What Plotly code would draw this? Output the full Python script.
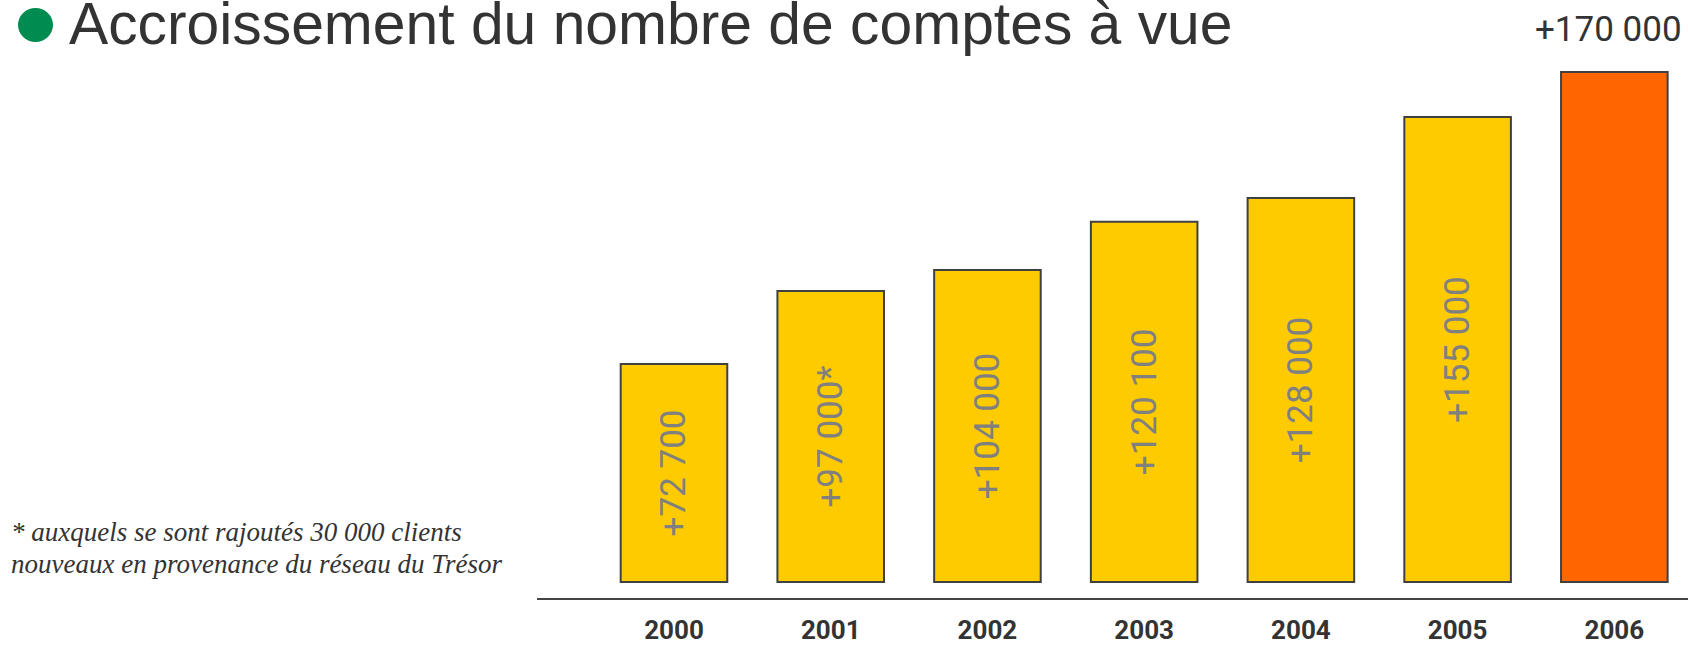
import plotly.graph_objects as go

# ---- data ----
years = ["2000", "2001", "2002", "2003", "2004", "2005", "2006"]
accounts = [72700, 97000, 104000, 120100, 128000, 155000, 170000]
bar_labels = ["+72 700", "+97 000*", "+104 000", "+120 100", "+128 000", "+155 000", ""]
top_label = "+170 000"
title_text = "Accroissement du nombre de comptes à vue"
footnote_lines = ["* auxquels se sont rajoutés 30 000 clients",
                  "nouveaux en provenance du réseau du Trésor"]

# ---- layout geometry (pixels) ----
W, H = 1688, 646
ML, MR, MT, MB = 537, 0, 60, 48
PW, PH = W - ML - MR, H - MT - MB

def px_x(x):
    return (x - ML) / PW

def px_y(y):
    return (H - MB - y) / PH

COND = "Roboto, DejaVu Sans Condensed, sans-serif"
YELLOW = "#FDCB00"
ORANGE = "#FF6600"
colors = [YELLOW] * 6 + [ORANGE]

fig = go.Figure()
fig.add_trace(go.Bar(
    x=years, y=accounts,
    marker=dict(color=colors, line=dict(color="#404040", width=2)),
    text=bar_labels, textposition="inside", insidetextanchor="middle",
    textangle=-90,
    textfont=dict(family=COND, size=35, color="#808080"),
    hoverinfo="skip",
))

annotations = [
    dict(x=len(years) - 1, y=accounts[-1], xref="x", yref="y", text=top_label,
         showarrow=False, xanchor="center", yanchor="bottom", yshift=20, xshift=-6,
         font=dict(family=COND, size=35, color="#333333")),
    dict(x=px_x(67), y=px_y(23.5), xref="paper", yref="paper", text=title_text,
         showarrow=False, xanchor="left", yanchor="middle",
         font=dict(family="Liberation Sans, Arial, sans-serif", size=58.8, color="#333333")),
]
for i, line in enumerate(footnote_lines):
    annotations.append(dict(
        x=px_x(9), y=px_y(532 + 32 * i), xref="paper", yref="paper", text=line,
        showarrow=False, xanchor="left", yanchor="middle",
        font=dict(family="Liberation Serif, Times New Roman, serif", size=27,
                  color="#333333", style="italic")))

fig.update_layout(
    width=W, height=H,
    margin=dict(l=ML, r=MR, t=MT, b=MB, pad=0),
    paper_bgcolor="white", plot_bgcolor="white",
    showlegend=False,
    bargap=0.32,
    xaxis=dict(type="category", range=[-0.874, 6.47], showline=True,
               linecolor="#444444", linewidth=2,
               showgrid=False, zeroline=False, ticks="", ticklabelstandoff=8,
               automargin=False,
               tickfont=dict(family=COND, size=26, color="#333333", weight="bold")),
    yaxis=dict(range=[-5333, 174000], visible=False, showgrid=False, zeroline=False),
    annotations=annotations,
    shapes=[dict(type="circle", xref="paper", yref="paper",
                 xsizemode="pixel", ysizemode="pixel",
                 xanchor=0, yanchor=1,
                 x0=18 - ML, x1=53 - ML, y0=MT - 42, y1=MT - 8,
                 fillcolor="#008C50", line=dict(width=0))],
)

fig.write_html(
    "out.html",
    config={"displayModeBar": False},
    post_script="document.body.style.margin='0';document.body.style.overflow='hidden';",
)
